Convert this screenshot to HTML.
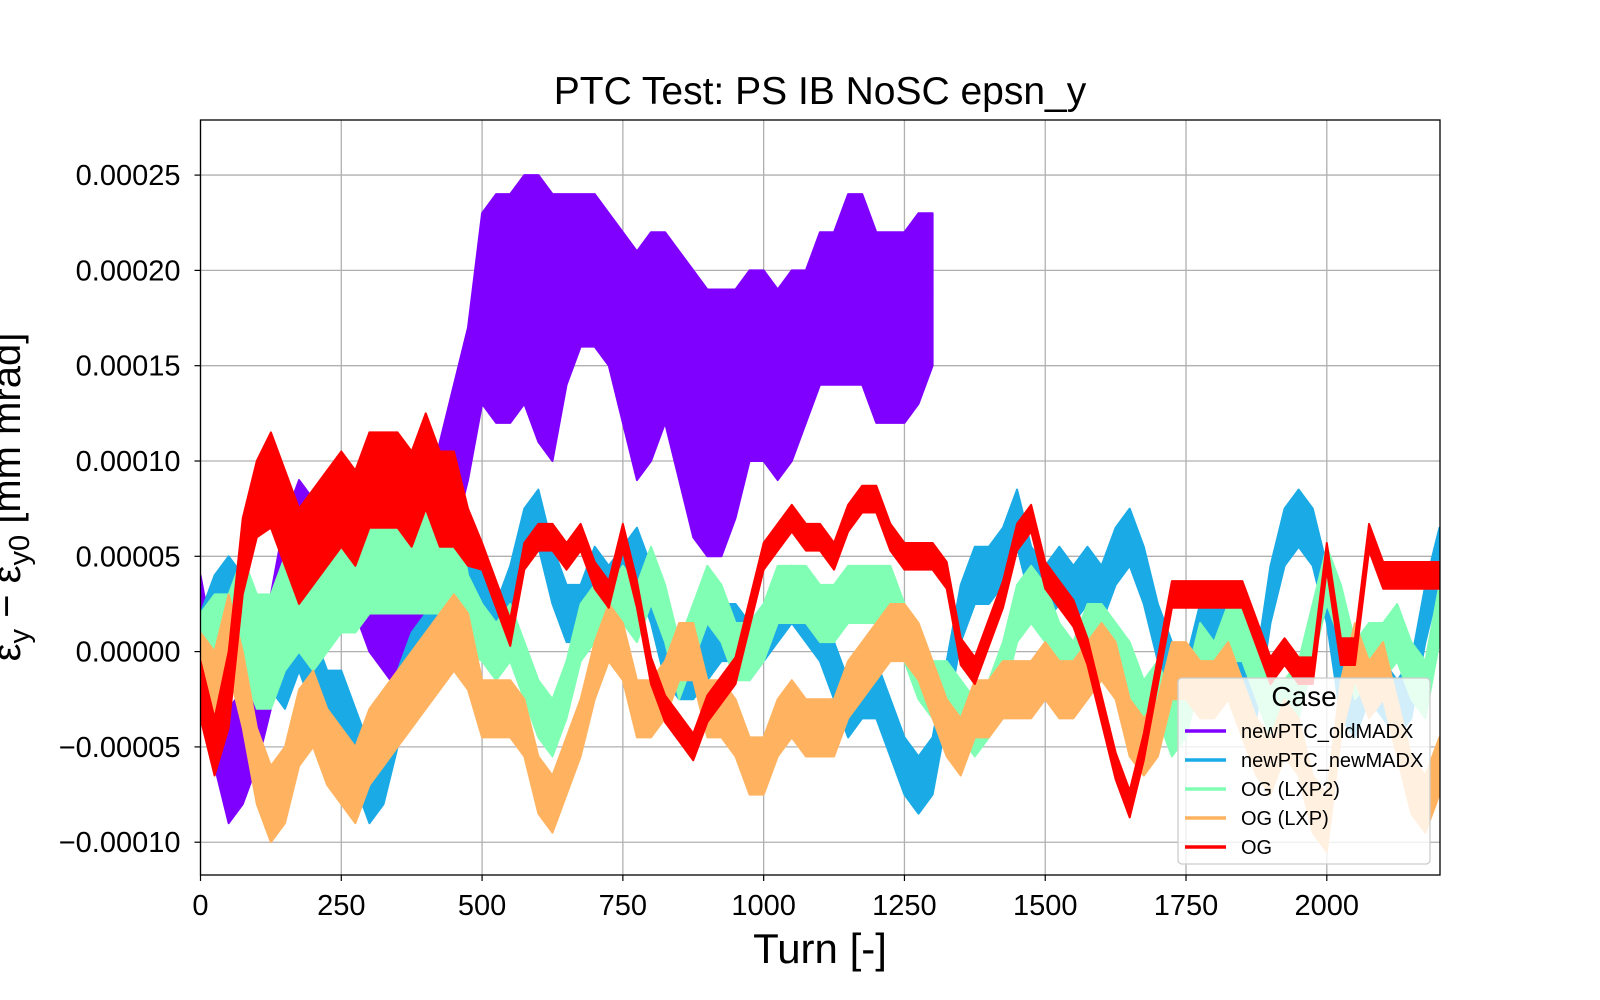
<!DOCTYPE html>
<html><head><meta charset="utf-8"><style>
html,body{margin:0;padding:0;background:#fff;overflow:hidden;}
svg{display:block;font-family:"Liberation Sans","DejaVu Sans",sans-serif;}
</style></head><body>
<svg id="chart" width="1600" height="1000" viewBox="0 0 1600 1000">
<rect width="1600" height="1000" fill="#fff"/>
<text x="820" y="104" font-size="39" text-anchor="middle" fill="#000">PTC Test: PS IB NoSC epsn_y</text>
<g id="grid"></g>
<g id="series"></g>
<rect x="200.5" y="120" width="1239.5" height="755" fill="none" stroke="#000" stroke-width="1.3"/>
<g id="ticks"></g>
<text x="820" y="963" font-size="42" text-anchor="middle">Turn [-]</text>
<text transform="translate(20,497) rotate(-90)" font-size="40" text-anchor="middle">ε<tspan font-size="29" dy="9">y</tspan><tspan dy="-9"> − ε</tspan><tspan font-size="29" dy="9">y0</tspan><tspan dy="-9"> [mm mrad]</tspan></text>
<g id="legend"></g>
</svg>
<script>
const xTicks=[0,250,500,750,1000,1250,1500,1750,2000];
const yTicks=[-10,-5,0,5,10,15,20,25];
const yTickLabels=["−0.00010","−0.00005","0.00000","0.00005","0.00010","0.00015","0.00020","0.00025"];
const turns=[0,25,50,75,100,125,150,175,200,225,250,275,300,325,350,375,400,425,450,475,500,525,550,575,600,625,650,675,700,725,750,775,800,825,850,875,900,925,950,975,1000,1025,1050,1075,1100,1125,1150,1175,1200,1225,1250,1275,1300,1325,1350,1375,1400,1425,1450,1475,1500,1525,1550,1575,1600,1625,1650,1675,1700,1725,1750,1775,1800,1825,1850,1875,1900,1925,1950,1975,2000,2025,2050,2075,2100,2125,2150,2175,2200];
const seriesNames=["newPTC_oldMADX","newPTC_newMADX","OG (LXP2)","OG (LXP)","OG"];
const seriesColors=["#8000ff","#1aaae6","#80ffb4","#ffb360","#ff0000"];
// values in units of 1e-5 mm mrad
const purpleVals=[2,-3,-6,-5,-3,0,4,6,5,6,7,5,3,2,1,3,5,8,10,13,18,18,18,19,18,17,19,20,20,19,17,15,16,17,15,13,12,12,13,15,15,14,15,16,18,18,19,19,17,17,17,18,19];
const purpleHalf=[2,3,3,3,3,3,3,3,3,3,3,3,3,3,3,3,3,3,4,4,5,6,6,6,7,7,5,4,4,4,5,6,6,5,6,7,7,7,6,5,5,5,5,4,4,4,5,5,5,5,5,5,4];
const blueVals=[0,2,3,2,1,0,-1,1,-1,-3,-3,-5,-7,-6,-3,-1,0,1,3,5,3,1,3,6,7,4,2,2,4,3,4,5,3,0,-1,-1,0,1,1,0,1,2,3,2,1,-1,-3,-2,-2,-4,-6,-7,-6,-2,2,4,4,5,7,4,3,4,3,4,3,5,6,4,1,-1,-2,1,2,1,-1,-2,3,6,7,6,3,-2,-3,-1,-2,-3,-2,2,5];
const blueHalf=[2,2,2,2,2,2,2,2,2,2,2,2,2,2,2,2,2,2,2,2,1.5,1.5,1.5,1.5,1.5,1.5,1.5,1.5,1.5,1.5,1.5,1.5,1.5,1.5,1.5,1.5,1.5,1.5,1.5,1.5,1.5,1.5,1.5,1.5,1.5,1.5,1.5,1.5,1.5,1.5,1.5,1.5,1.5,1.5,1.5,1.5,1.5,1.5,1.5,1.5,1.5,1.5,1.5,1.5,1.5,1.5,1.5,1.5,1.5,1.5,1.5,1.5,1.5,1.5,1.5,1.5,1.5,1.5,1.5,1.5,1.5,1.5,1.5,1.5,1.5,1.5,1.5,1.5,1.5];
const greenVals=[0,1,1,2,0,0,2,3,2,3,4,4,5,5,5,5,5,5,5,2,1,0,1,-1,-3,-4,-2,1,2,2,3,2,4,2,-1,1,3,2,0,0,1,3,3,3,2,2,3,3,3,3,1,-1,-2,-2,-3,-4,-3,-1,2,3,2,0,-1,1,1,0,-1,-3,-2,-4,-3,0,-1,1,1,-1,-3,-3,-2,1,4,2,-1,0,0,1,-1,-2,2];
const greenHalf=[2,2,2,3,3,3,3,3,3,3,3,3,3,3,3,3,3,3,3,2,1.5,1.5,1.5,1.5,1.5,1.5,1.5,1.5,1.5,1.5,1.5,1.5,1.5,1.5,1.5,1.5,1.5,1.5,1.5,1.5,1.5,1.5,1.5,1.5,1.5,1.5,1.5,1.5,1.5,1.5,1.5,1.5,1.5,1.5,1.5,1.5,1.5,1.5,1.5,1.5,1.5,1.5,1.5,1.5,1.5,1.5,1.5,1.5,1.5,1.5,1.5,1.5,1.5,1.5,1.5,1.5,1.5,1.5,1.5,1.5,1.5,1.5,1.5,1.5,1.5,1.5,1.5,1.5,1.5];
const orangeVals=[-1,-2,1,-2,-6,-8,-7,-4,-3,-5,-6,-7,-5,-4,-3,-2,-1,0,1,0,-3,-3,-3,-4,-7,-8,-6,-4,-1,1,0,-3,-3,-2,0,0,-3,-3,-4,-6,-6,-4,-3,-4,-4,-4,-2,-1,0,1,1,0,-2,-4,-5,-3,-3,-2,-2,-2,-1,-2,-2,-1,0,-1,-4,-5,-4,-1,-1,-2,-2,-1,-3,-5,-6,-4,-5,-8,-9,-3,0,-2,-1,-4,-7,-8,-6];
const orangeHalf=[2,2,2,2,2,2,2,2,2,2,2,2,2,2,2,2,2,2,2,2,1.5,1.5,1.5,1.5,1.5,1.5,1.5,1.5,1.5,1.5,1.5,1.5,1.5,1.5,1.5,1.5,1.5,1.5,1.5,1.5,1.5,1.5,1.5,1.5,1.5,1.5,1.5,1.5,1.5,1.5,1.5,1.5,1.5,1.5,1.5,1.5,1.5,1.5,1.5,1.5,1.5,1.5,1.5,1.5,1.5,1.5,1.5,1.5,1.5,1.5,1.5,1.5,1.5,1.5,1.5,1.5,1.5,1.5,1.5,1.5,1.5,1.5,1.5,1.5,1.5,1.5,1.5,1.5,1.5];
const redVals=[-2,-5,-2,5,8,9,7,5,6,7,8,7,9,9,9,8,10,8,8,6,5,3,1,5,6,6,5,6,4,3,6,3,-1,-3,-4,-5,-3,-2,-1,2,5,6,7,6,6,5,7,8,8,6,5,5,5,4,0,-1,1,3,6,7,4,3,2,0,-3,-6,-8,-5,-1,3,3,3,3,3,3,1,-1,0,-1,-1,5,0,0,6,4,4,4,4,4];
const redHalf=[1.5,1.5,2,2,2,2.5,2.5,2.5,2.5,2.5,2.5,2.5,2.5,2.5,2.5,2.5,2.5,2.5,2.5,1.5,0.7,0.7,0.7,0.7,0.7,0.7,0.7,0.7,0.7,0.7,0.7,0.7,0.7,0.7,0.7,0.7,0.7,0.7,0.7,0.7,0.7,0.7,0.7,0.7,0.7,0.7,0.7,0.7,0.7,0.7,0.7,0.7,0.7,0.7,0.7,0.7,0.7,0.7,0.7,0.7,0.7,0.7,0.7,0.7,0.7,0.7,0.7,0.7,0.7,0.7,0.7,0.7,0.7,0.7,0.7,0.7,0.7,0.7,0.7,0.7,0.7,0.7,0.7,0.7,0.7,0.7,0.7,0.7,0.7];
const valuesList=[purpleVals,blueVals,greenVals,orangeVals,redVals];
const halfList=[purpleHalf,blueHalf,greenHalf,orangeHalf,redHalf];

const X0=200.5,X1=1440,Y0=120,Y1=875,xMin=0,xMax=2201,yMin=-11.72,yMax=27.89;
function sx(v){return X0+(v-xMin)/(xMax-xMin)*(X1-X0);}
function sy(v){return Y1-(v-yMin)/(yMax-yMin)*(Y1-Y0);}
const NS="http://www.w3.org/2000/svg";
function mk(tag,attrs,parent){const e=document.createElementNS(NS,tag);for(const k in attrs)e.setAttribute(k,attrs[k]);parent.appendChild(e);return e;}
const svg=document.getElementById('chart');
const defs=mk('defs',{},svg);
const cp=mk('clipPath',{id:'clip'},defs);
mk('rect',{x:X0,y:Y0,width:X1-X0,height:Y1-Y0},cp);
const grid=document.getElementById('grid'),ticks=document.getElementById('ticks');
xTicks.forEach(t=>{
  const g=mk('line',{x1:sx(t),x2:sx(t),y1:Y0,y2:Y1,stroke:'#b0b0b0','stroke-width':1.3},grid);
  
  
  const tk=mk('line',{x1:sx(t),x2:sx(t),y1:Y1,y2:Y1+6,stroke:'#000','stroke-width':1.2},ticks);
  
  
  const l=mk('text',{x:sx(t),y:Y1+40,'font-size':29,'text-anchor':'middle'},ticks);
  l.textContent=t;
  
  
});
yTicks.forEach((t,i)=>{
  const g=mk('line',{x1:X0,x2:X1,y1:sy(t),y2:sy(t),stroke:'#b0b0b0','stroke-width':1.3},grid);
  
  
  const tk=mk('line',{x1:X0-6,x2:X0,y1:sy(t),y2:sy(t),stroke:'#000','stroke-width':1.2},ticks);
  
  
  const l=mk('text',{x:X0-20,y:sy(t)+10,'font-size':29,'text-anchor':'end'},ticks);
  l.textContent=yTickLabels[i];
  
  
});
const layer=document.getElementById('series');
valuesList.forEach((vals,si)=>{
  const half=halfList[si];
  const g=mk('g',{'clip-path':'url(#clip)'},layer);
  
  
  let up=[],lo=[],mid=[];
  vals.forEach((v,i)=>{const x=sx(turns[i]);up.push(x+','+sy(v+half[i]));lo.unshift(x+','+sy(v-half[i]));mid.push(x+','+sy(v));});
  const band=mk('polygon',{points:up.concat(lo).join(' '),fill:seriesColors[si],stroke:seriesColors[si],'stroke-width':2,'stroke-linejoin':'round'},g);
  
  
  const line=mk('polyline',{points:mid.join(' '),fill:'none',stroke:seriesColors[si],'stroke-width':3},g);
  
  
});
const lg=document.getElementById('legend');
const box=mk('rect',{x:1178,y:678,width:252,height:186,rx:4,fill:'#fff','fill-opacity':0.8,stroke:'#cccccc','stroke-width':1.3},lg);


const lt=mk('text',{x:1304,y:706,'font-size':28,'text-anchor':'middle'},lg);
lt.textContent='Case';


seriesNames.forEach((n,i)=>{
  const y=731+i*29;
  const g=mk('g',{},lg);
  
  
  mk('line',{x1:1185,x2:1226,y1:y,y2:y,stroke:seriesColors[i],'stroke-width':3.5},g);
  const t=mk('text',{x:1241,y:y+7,'font-size':20},g);
  t.textContent=n;
});
</script>
</body></html>
